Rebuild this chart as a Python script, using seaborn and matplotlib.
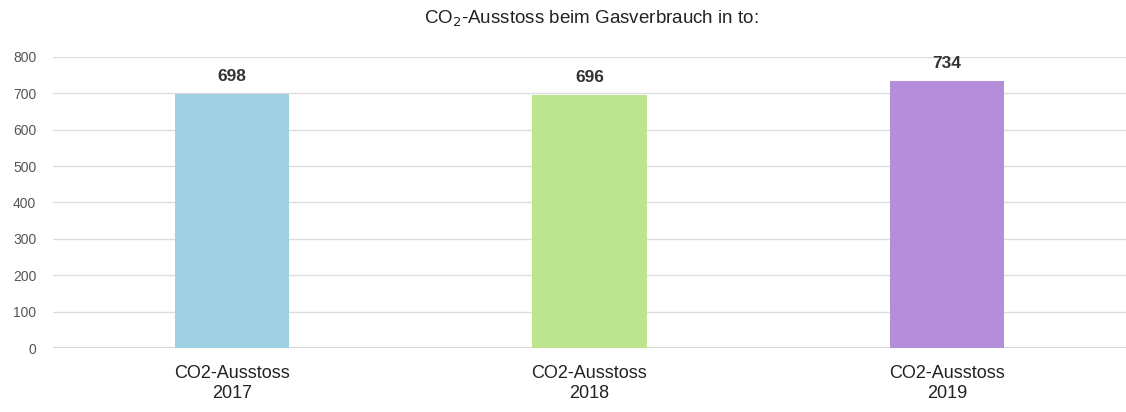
import matplotlib
matplotlib.use("Agg")
import matplotlib.pyplot as plt
import seaborn as sns
import pandas as pd

# Data
categories = ["CO2-Ausstoss\n2017", "CO2-Ausstoss\n2018", "CO2-Ausstoss\n2019"]
values = [698, 696, 734]
bar_colors = ["#9ed0e2", "#bde48f", "#b48ed8"]
y_ticks = [0, 100, 200, 300, 400, 500, 600, 700, 800]

df = pd.DataFrame({"cat": categories, "val": values})

sns.set_style("white")
plt.rcParams['font.family'] = ['Liberation Sans', 'DejaVu Sans']

fig = plt.figure(figsize=(11.26, 4.12), dpi=100)
ax = fig.add_axes([0.047, 0.155, 0.953, 0.707])

sns.barplot(data=df, x="cat", y="val", hue="cat", palette=bar_colors,
            width=0.32, legend=False, ax=ax, saturation=1, linewidth=0)

ax.set_xlim(-0.5, 2.5)
ax.set_ylim(0, 800)
ax.set_yticks(y_ticks)
ax.yaxis.grid(True, color="#dddddd", linewidth=1)
ax.axhline(0, color="#cccccc", linewidth=1.2, zorder=0.5)
ax.set_axisbelow(True)
for s in ax.spines.values():
    s.set_visible(False)
ax.tick_params(axis="y", length=0, labelsize=10, labelcolor="#555555", pad=12)
ax.tick_params(axis="x", length=0, labelsize=13, labelcolor="#222222", pad=12)
for lbl in ax.get_xticklabels():
    lbl.set_linespacing(1.25)
ax.set_xlabel("")
ax.set_ylabel("")

# value labels on top of bars
for i, v in enumerate(values):
    ax.text(i, v + 28, str(v), ha="center", va="bottom", fontsize=12.5,
            fontweight="bold", color="#333333", clip_on=False)

fig.text(0.525, 0.955, r"CO$_2$-Ausstoss beim Gasverbrauch in to:",
         ha="center", va="center", fontsize=13.5, color="#222222")

fig.savefig("out.png", dpi=100)
